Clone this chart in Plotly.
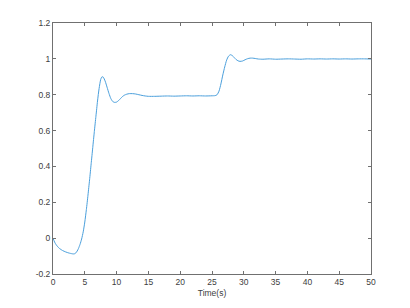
import plotly.graph_objects as go

# Response curve
time_s = [0, 0.25, 0.5, 0.75, 1.0, 1.5, 2.0, 2.5, 3.0, 3.2, 3.4, 3.6, 3.8, 4.0, 4.25, 4.5, 4.75, 5.0,
          5.25, 5.5, 5.75, 6.0, 6.25, 6.5, 6.75, 7.0, 7.25, 7.5, 7.7, 7.9, 8.2, 8.5, 8.8, 9.1, 9.4,
          9.7, 10.0, 10.3, 10.6, 10.9, 11.2, 11.6, 12.0, 12.5, 13.0, 13.5, 14.0, 14.5, 15.0, 16.0,
          17.0, 18.0, 19.0, 20.0, 21.0, 22.0, 23.0, 24.0, 25.0, 25.5, 25.8, 26.1, 26.4, 26.7, 27.0,
          27.3, 27.6, 27.9, 28.2, 28.5, 28.8, 29.1, 29.4, 29.8, 30.2, 30.6, 31.0, 31.4, 31.8, 32.3,
          33.0, 34.0, 35.0, 36.0, 37.0, 38.0, 39.0, 40.0, 41.0, 42.0, 43.0, 44.0, 45.0, 46.0, 47.0,
          48.0, 49.0, 50.0]
response = [0.0, -0.022, -0.037, -0.048, -0.057, -0.069, -0.077, -0.083, -0.087, -0.088, -0.087,
            -0.082, -0.072, -0.058, -0.035, -0.005, 0.035, 0.09,
            0.16, 0.24, 0.325, 0.415, 0.505, 0.595, 0.68, 0.765, 0.835, 0.885, 0.9, 0.898, 0.876,
            0.842, 0.807, 0.778, 0.762, 0.757, 0.759, 0.767, 0.778, 0.789, 0.797, 0.803, 0.806,
            0.806, 0.804, 0.8, 0.796, 0.793, 0.791, 0.791, 0.792, 0.793, 0.792, 0.793, 0.794,
            0.793, 0.794, 0.793, 0.794, 0.795, 0.8, 0.82, 0.86, 0.91, 0.955, 0.993, 1.015, 1.023,
            1.018, 1.007, 0.996, 0.989, 0.986, 0.988, 0.995, 1.001, 1.004, 1.004, 1.002, 0.999,
            0.998, 1.0, 0.998, 0.999, 1.0, 0.999, 0.998, 1.0, 0.999, 1.0, 0.999, 1.0, 0.999, 1.0,
            0.999, 1.0, 1.0, 0.999]

x_ticks = [0, 5, 10, 15, 20, 25, 30, 35, 40, 45, 50]
x_labels = ["0", "5", "10", "15", "20", "25", "30", "35", "40", "45", "50"]
y_ticks = [-0.2, 0, 0.2, 0.4, 0.6, 0.8, 1.0, 1.2]
y_labels = ["-0.2", "0", "0.2", "0.4", "0.6", "0.8", "1", "1.2"]

fig = go.Figure()
fig.add_trace(go.Scatter(x=time_s, y=response, mode="lines",
                         line=dict(color="#4A9FDC", width=1, shape="spline", smoothing=0.6),
                         showlegend=False, hoverinfo="skip"))

font = dict(family="Liberation Sans, Arial, sans-serif", size=8.5, color="#404040")
axis_common = dict(showgrid=False, zeroline=False, showline=True, mirror="ticks",
                   linecolor="#707070", linewidth=1, ticks="inside", ticklen=3,
                   tickcolor="#707070", tickwidth=1, tickfont=font)

fig.update_layout(
    width=402, height=300,
    margin=dict(l=45, r=39, t=15, b=34),
    paper_bgcolor="white", plot_bgcolor="white",
    xaxis=dict(range=[0, 50], tickvals=x_ticks, ticktext=x_labels,
               title=dict(text="Time(s)", standoff=3, font=font),
               automargin=False, **axis_common),
    yaxis=dict(range=[-0.2, 1.2], tickvals=y_ticks, ticktext=y_labels, automargin=False, **axis_common),
)

fig.write_html("out.html")
